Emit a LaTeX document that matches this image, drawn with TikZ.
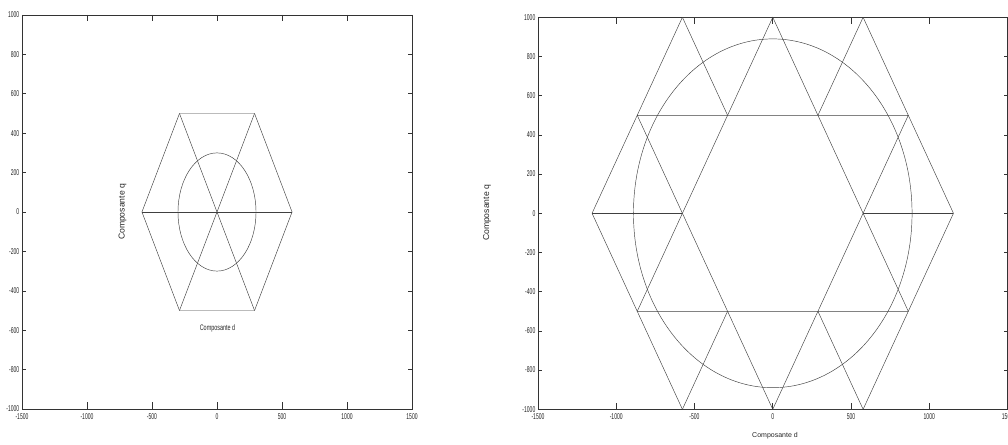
\documentclass[tikz,border=0pt]{standalone}
\usepackage{fontspec}
\setmainfont{Liberation Sans}
\newfontfamily\tickfont[FakeStretch=0.6]{Liberation Sans}
\newfontfamily\labfont[FakeStretch=0.68]{Liberation Sans}
\begin{document}
\begin{tikzpicture}[x=1pt,y=1pt,
  frame/.style={line width=0.6pt, draw=black!80},
  curve/.style={line width=0.45pt, draw=black!75},
  tk/.style={font=\tickfont\fontsize{8.4}{9}\selectfont, inner sep=0pt, text=black!85},
  lab/.style={inner sep=0pt, text=black!85}]
\useasboundingbox (0,0) rectangle (1008,444);
\fill[white] (0,0) rectangle (1008,444);

% axes frames, ticks and tick labels
\foreach \L/\R/\B/\T in {22/412/35/429, 538/1007.5/34.7/426.7}{
  \draw[frame] (\L,\B) rectangle (\R,\T);
  \foreach \v in {-1500,-1000,...,1500}{
    \pgfmathsetmacro\xx{\L+(\R-\L)*((\v+1500)/3000)}
    \draw[frame] (\xx,\B) -- ++(0,6.5);
    \draw[frame] (\xx,\T) -- ++(0,-6.5);
    \node[tk] at (\xx,{\B-7.5}) {\v};
  }
  \foreach \v in {-1000,-800,...,1000}{
    \pgfmathsetmacro\yy{\B+(\T-\B)*((\v+1000)/2000)}
    \draw[frame] (\L,\yy) -- ++(4,0);
    \draw[frame] (\R,\yy) -- ++(-4,0);
    \node[tk, anchor=east] at ({\L-2.5},\yy) {\v};
  }
}

% left plot
\begin{scope}[shift={(217pt,232pt)}, x=0.13pt, y=0.197pt]
  \coordinate (a0) at (577.35,0);
  \coordinate (a1) at (288.68,500);
  \coordinate (a2) at (-288.68,500);
  \coordinate (a3) at (-577.35,0);
  \coordinate (a4) at (-288.68,-500);
  \coordinate (a5) at (288.68,-500);
  \coordinate (ac) at (0,0);
  \draw[curve] (a0) -- (a1) -- (a2) -- (a3) -- (a4) -- (a5) -- cycle;
  \draw[curve] (a0) -- (a3);
  \draw[curve] (a1) -- (a4);
  \draw[curve] (a2) -- (a5);
  \draw[curve] (ac) ellipse [x radius=39pt, y radius=59.1pt];
\end{scope}

% right plot
\begin{scope}[shift={(772.75pt,230.7pt)}, x=0.1565pt, y=0.196pt]
  \coordinate (b0) at (1154.7,0);
  \coordinate (b1) at (577.35,1000);
  \coordinate (b2) at (-577.35,1000);
  \coordinate (b3) at (-1154.7,0);
  \coordinate (b4) at (-577.35,-1000);
  \coordinate (b5) at (577.35,-1000);
  \coordinate (h0) at (577.35,0);
  \coordinate (h1) at (288.68,500);
  \coordinate (h2) at (-288.68,500);
  \coordinate (h3) at (-577.35,0);
  \coordinate (h4) at (-288.68,-500);
  \coordinate (h5) at (288.68,-500);
  \coordinate (s1) at (0,1000);
  \coordinate (s2) at (-866,-500);
  \coordinate (s3) at (866,-500);
  \coordinate (t1) at (0,-1000);
  \coordinate (t2) at (-866,500);
  \coordinate (t3) at (866,500);
  \coordinate (bc) at (0,0);
  \draw[curve] (b0) -- (b1) -- (b2) -- (b3) -- (b4) -- (b5) -- cycle;
  \draw[curve] (s1) -- (s2) -- (s3) -- cycle;
  \draw[curve] (t1) -- (t2) -- (t3) -- cycle;
  \draw[curve] (b0) -- (h0);
  \draw[curve] (b1) -- (h1);
  \draw[curve] (b2) -- (h2);
  \draw[curve] (b3) -- (h3);
  \draw[curve] (b4) -- (h4);
  \draw[curve] (b5) -- (h5);
  \draw[curve] (bc) ellipse [x radius=139.3pt, y radius=174.4pt];
\end{scope}

% axis labels
\node[lab, rotate=90, font=\fontsize{8.6}{10}\selectfont] (lq) at (122.5,232) {Composante q};
\node[lab, font=\labfont\fontsize{8}{9}\selectfont] (ld) at (217.5,116) {Composante d};
\node[lab, rotate=90, font=\fontsize{8.6}{10}\selectfont] (rq) at (487,231) {Composante q};
\node[lab, font=\fontsize{7}{8}\selectfont] (rd) at (775,8) {Composante d};
\end{tikzpicture}
\end{document}
